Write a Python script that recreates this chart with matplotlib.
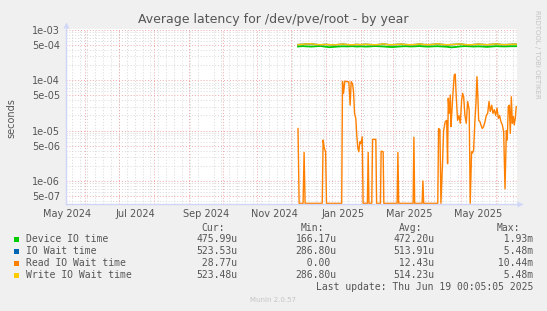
import matplotlib
matplotlib.use("Agg")
import matplotlib.pyplot as plt
import matplotlib.dates as mdates
import matplotlib.ticker as mticker
import matplotlib.transforms as mtransforms
from matplotlib.patches import Rectangle
import numpy as np
import pandas as pd

# ---------------- data ----------------
window_start = "2024-05-15 00:05"
window_end = "2025-06-19 00:05"

series_names = ["Device IO time", "IO Wait time", "Read IO Wait time", "Write IO Wait time"]
series_colors = ["#00CC00", "#0066B3", "#FF8000", "#FFCC00"]

# sampled every 4 days from first data point (microseconds)
dense_start = "2024-12-07"
device_us = [470, 478, 472, 468, 475, 481, 466, 455, 462, 470, 474, 471, 477, 469, 473,
             468, 472, 479, 475, 470, 462, 458, 466, 473, 476, 470, 474, 480, 471, 467,
             473, 476, 470, 465, 452, 460, 471, 478, 474, 469, 473, 468, 462, 470, 477,
             473, 471, 475, 476, 476]
io_wait_us = [511, 519, 526, 530, 514, 507, 517, 509, 503, 513, 524, 511, 506, 515, 510,
              520, 512, 505, 514, 528, 511, 507, 516, 522, 512, 506, 514, 525, 513, 509,
              518, 531, 514, 507, 511, 519, 526, 513, 504, 512, 523, 515, 509, 517, 527,
              514, 510, 516, 523, 523]
write_us = [512, 520, 528, 531, 515, 509, 518, 510, 505, 514, 526, 512, 508, 516, 511,
            522, 513, 507, 515, 530, 512, 509, 517, 524, 513, 508, 515, 527, 514, 510,
            519, 533, 515, 509, 512, 520, 528, 514, 506, 513, 525, 516, 510, 518, 529,
            515, 511, 517, 523, 523]

# read IO wait: days after window start, value in microseconds (0 = idle)
read_days = [206.0, 207.0, 210.5, 211.4, 212.3,
             227.5, 228.3, 229.3, 230.5, 231.3,
             244.8, 245.5, 246.4, 247.6, 249.3, 251.1, 252.3, 253.2, 254.4, 255.3, 256.2,
             257.3, 258.2, 259.1, 260.0, 260.9, 261.8, 263.0, 263.8,
             267.6, 268.3, 269.0,
             271.5, 272.2, 275.1, 275.8,
             279.2, 279.8, 281.6, 282.2,
             294.0, 294.7, 295.4,
             308.2, 308.9, 309.6,
             316.2, 316.9, 317.6,
             330.1, 330.8, 332.0, 332.9, 334.4, 335.3, 336.7, 338.0, 338.8, 339.4, 340.3,
             341.2, 341.8, 342.7, 343.6, 344.7, 345.6, 346.5, 347.7, 348.9, 350.1, 351.3,
             352.2, 353.1, 354.2, 355.4, 356.6, 358.0, 358.9, 360.1, 361.0, 361.9, 363.1,
             364.0, 364.9, 365.8, 366.4, 367.6, 368.4, 369.6, 370.8, 372.0, 373.2, 374.4,
             375.6, 376.7, 378.0, 379.1, 380.3, 381.5, 382.7, 383.9, 385.0, 386.2, 387.4,
             388.6, 389.8, 391.0, 391.8, 392.7, 393.6, 394.5, 395.4, 396.3, 397.2, 398.0,
             398.9, 399.8]
read_us = [11.0, 0, 0, 3.7, 0,
           0, 6.5, 4.5, 3.8, 0,
           0, 95, 55, 96, 94, 94, 32, 94, 85, 60, 22,
           17.5, 8.0, 4.5, 3.8, 6.0, 5.5, 7.5, 0,
           0, 3.7, 0,
           0, 6.7, 6.7, 0,
           0, 3.9, 3.8, 0,
           0, 3.7, 0,
           0, 7.4, 0,
           0, 1.0, 0,
           0, 11, 10.5, 0, 2.6, 10, 15, 16, 2.2, 44, 22,
           51, 12, 26, 55, 127, 133, 47, 16, 20, 14, 40,
           55, 47, 20, 14, 38, 26, 0, 3.8, 3.6, 4.1, 16,
           35, 118, 40, 16, 15, 13, 11, 12, 15, 20, 22,
           38, 24, 32, 22, 26, 20, 28, 17.5, 20, 15, 13,
           9.5, 0.7, 10, 6.5, 30, 32, 8.8, 47, 14, 19, 13,
           17.5, 30]

y_ticks = [5e-7, 1e-6, 5e-6, 1e-5, 5e-5, 1e-4, 5e-4, 1e-3]
x_label_dates = ["2024-05-16", "2024-07-16", "2024-09-16", "2024-11-16",
                 "2025-01-16", "2025-03-16", "2025-05-16"]
x_labels = ["May 2024", "Jul 2024", "Sep 2024", "Nov 2024", "Jan 2025", "Mar 2025", "May 2025"]

stat_headers = ["Cur:", "Min:", "Avg:", "Max:"]
stats = [["475.99u", "166.17u", "472.20u", "  1.93m"],
         ["523.53u", "286.80u", "513.91u", "  5.48m"],
         [" 28.77u", "  0.00 ", " 12.43u", " 10.44m"],
         ["523.48u", "286.80u", "514.23u", "  5.48m"]]

title = "Average latency for /dev/pve/root - by year"
ylabel = "seconds"
last_update = "Last update: Thu Jun 19 00:05:05 2025"
footer = "Munin 2.0.57"
watermark = "RRDTOOL / TOBI OETIKER"

# ---------------- figure ----------------
W, H = 547, 311
fig = plt.figure(figsize=(W / 100, H / 100), dpi=100, facecolor="#F0F0F0")
TXT = "#555555"

def fx(x):
    return x / W

def fy(y):
    return 1 - y / H

ax = fig.add_axes([fx(66), fy(204), 450.5 / W, 175 / H], facecolor="white")

t0 = pd.Timestamp(window_start)
t1 = pd.Timestamp(window_end)
ylo, yhi = 3.475e-7, 1.0468e-3

dense_t = pd.date_range(dense_start, periods=len(device_us), freq="4D")
ax.plot(dense_t, np.array(device_us) * 1e-6, color=series_colors[0], lw=1.3, zorder=3)
ax.plot(dense_t, np.array(io_wait_us) * 1e-6, color=series_colors[1], lw=1.1, zorder=3)
read_t = t0 + pd.to_timedelta(np.array(read_days), unit="D")
read_v = np.array(read_us) * 1e-6
read_plot = np.where(read_v > 0, read_v, ylo * 1.03)
ax.plot(read_t, read_plot, color=series_colors[2], lw=1.0, zorder=3)
ax.plot(dense_t, np.array(write_us) * 1e-6, color=series_colors[3], lw=1.1, zorder=3)

ax.set_yscale("log")
ax.set_ylim(ylo, yhi)
ax.set_xlim(t0, t1)

# grid
red = "#F2A6A6"
grey = "#D8D8D8"
dot = (0, (1, 2))
ax.set_axisbelow(True)
ax.yaxis.set_major_locator(mticker.FixedLocator(y_ticks))
ax.yaxis.set_minor_locator(mticker.LogLocator(base=10, subs=(2, 3, 4, 6, 7, 8, 9), numticks=30))
ax.yaxis.set_major_formatter(mticker.FuncFormatter(lambda v, p: f"{v:.0e}"))
ax.yaxis.set_minor_formatter(mticker.NullFormatter())
ax.xaxis.set_major_locator(mticker.FixedLocator(mdates.date2num(pd.to_datetime(x_label_dates))))
ax.xaxis.set_major_formatter(mticker.FixedFormatter(x_labels))
ax.xaxis.set_minor_locator(mdates.WeekdayLocator(byweekday=mdates.MO))
ax.grid(which="major", axis="y", color=red, ls=dot, lw=0.7)
ax.grid(which="minor", axis="both", color=grey, ls=dot, lw=0.7)
for d in pd.date_range("2024-06-01", "2025-06-01", freq="MS"):
    ax.axvline(d, color=red, ls=dot, lw=0.7, zorder=0.6)

ax.tick_params(which="both", length=0)
ax.tick_params(axis="y", labelsize=7, labelcolor=TXT, pad=4.3)
ax.tick_params(axis="x", labelsize=7, labelcolor=TXT, pad=3.8)

for s in ["top", "right"]:
    ax.spines[s].set_visible(False)
for s in ["left", "bottom"]:
    ax.spines[s].set_color("#CFD6F8")
    ax.spines[s].set_linewidth(1.0)
    ax.spines[s].set_zorder(4)

tr_r = mtransforms.offset_copy(ax.transAxes, fig=fig, x=3, y=0, units="dots")
ax.plot([1.0], [0.0], marker=">", ms=5, color="#CFD6F8", transform=tr_r, clip_on=False, mec="none")
tr_t = mtransforms.offset_copy(ax.transAxes, fig=fig, x=0, y=4, units="dots")
ax.plot([0.0], [1.0], marker="^", ms=5, color="#CFD6F8", transform=tr_t, clip_on=False, mec="none")

# texts
fig.text(fx(273.5), fy(20), title, ha="center", va="center", fontsize=9, color=TXT)
fig.text(fx(11.7), fy(118), ylabel, ha="center", va="center", rotation=90, fontsize=7, color=TXT)
fig.text(fx(537), fy(54), watermark, ha="center", va="center", rotation=270, fontsize=5, color="#C4C4C4")

mono = "DejaVu Sans Mono"
fs = 7
row_y = [239.5, 251.5, 263.5, 275.5]
header_x = [201.6, 300.7, 398.7, 496.3]
value_x = [196.2, 295.4, 393.0, 492.0]
for hx, h in zip(header_x, stat_headers):
    fig.text(fx(hx), fy(227.7), h, ha="left", va="center", family=mono, fontsize=fs, color=TXT)
for i, (name, col) in enumerate(zip(series_names, series_colors)):
    fig.patches.append(Rectangle((fx(13.8), fy(row_y[i] + 2.8)), 5.5 / W, 5.5 / H,
                                 transform=fig.transFigure, facecolor=col, edgecolor="none"))
    fig.text(fx(26.2), fy(row_y[i]), name, ha="left", va="center", family=mono, fontsize=fs, color=TXT)
    for vx, s in zip(value_x, stats[i]):
        fig.text(fx(vx), fy(row_y[i]), s, ha="left", va="center", family=mono, fontsize=fs, color=TXT)
fig.text(fx(533), fy(287.5), last_update, ha="right", va="center", family=mono, fontsize=fs, color=TXT)
fig.text(fx(273.5), fy(300), footer, ha="center", va="center", fontsize=5, color="#C4C4C4")

fig.savefig("out.png", dpi=100, facecolor=fig.get_facecolor())
